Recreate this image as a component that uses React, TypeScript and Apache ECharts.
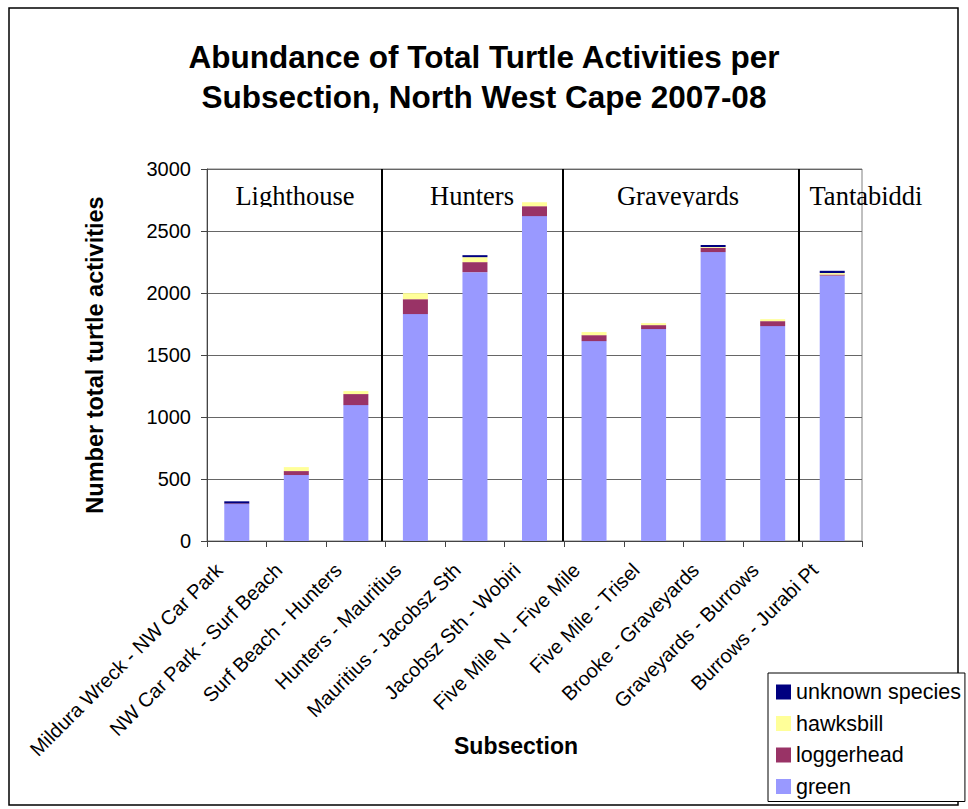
import React, { useEffect, useRef } from "react";
import * as echarts from "echarts";

const categories = [
  "Mildura Wreck - NW Car Park",
  "NW Car Park - Surf Beach",
  "Surf Beach - Hunters",
  "Hunters - Mauritius",
  "Mauritius - Jacobsz Sth",
  "Jacobsz Sth - Wobiri",
  "Five Mile N - Five Mile",
  "Five Mile - Trisel",
  "Brooke - Graveyards",
  "Graveyards - Burrows",
  "Burrows - Jurabi Pt",
];
const green = [298, 532, 1096, 1830, 2168, 2620, 1612, 1709, 2330, 1733, 2140];
const loggerhead = [5, 32, 89, 120, 81, 80, 48, 32, 35, 40, 9];
const hawksbill = [0, 32, 24, 49, 40, 32, 25, 16, 6, 16, 12];
const unknownSpecies = [17, 0, 0, 0, 16, 0, 0, 0, 16, 0, 18];
const yTicks = [0, 500, 1000, 1500, 2000, 2500, 3000];
const sectionNames = ["Lighthouse", "Hunters", "Graveyards", "Tantabiddi"];
const sectionBoundaries = [2.94, 5.98, 9.94];

const SANS = "'Liberation Sans', Arial, sans-serif";
const SERIF = "'Liberation Serif', 'Times New Roman', serif";

export default function App() {
  const ref = useRef<HTMLDivElement>(null);
  useEffect(() => {
    document.body.style.margin = "0";
    if (!ref.current) return;
    const chart = echarts.init(ref.current, null, { renderer: "svg" });
    const barSeries = (name: string, data: number[], color: string) => ({
      name,
      type: "bar",
      stack: "total",
      data,
      barWidth: 25,
      itemStyle: { color },
      emphasis: { disabled: true },
    });
    const sectionX = [295, 472, 678, 866];
    chart.setOption({
      animation: false,
      backgroundColor: "#ffffff",
      title: {
        text: "Abundance of Total Turtle Activities per\nSubsection, North West Cape 2007-08",
        left: "center",
        top: 32,
        textStyle: {
          fontFamily: SANS,
          fontSize: 31.5,
          fontWeight: "bold",
          color: "#000",
          lineHeight: 40,
        },
      },
      legend: {
        orient: "vertical",
        left: 768,
        top: 673,
        data: ["unknown species", "hawksbill", "loggerhead", "green"],
        icon: "rect",
        itemWidth: 15,
        itemHeight: 15,
        itemGap: 9.5,
        padding: [8, 4, 4, 8],
        borderColor: "#000",
        borderWidth: 1,
        backgroundColor: "#fff",
        textStyle: { fontFamily: SANS, fontSize: 21.5, color: "#000" },
        selectedMode: false,
      },
      grid: {
        left: 207,
        top: 169,
        right: 106,
        bottom: 268,
        show: true,
        borderColor: "#808080",
        borderWidth: 1,
        containLabel: false,
      },
      xAxis: [
        {
          type: "category",
          data: categories,
          axisLine: { lineStyle: { color: "#444", width: 1 } },
          axisTick: { show: true, length: 6, lineStyle: { color: "#444" } },
          axisLabel: {
            interval: 0,
            rotate: 45,
            margin: 8,
            padding: [0, 25, 0, 0],
            fontFamily: SANS,
            fontSize: 20,
            color: "#000",
          },
          splitLine: { show: false },
        },
        {
          type: "value",
          min: 0,
          max: 11,
          show: false,
        },
      ],
      yAxis: {
        type: "value",
        min: yTicks[0],
        max: yTicks[yTicks.length - 1],
        interval: 500,
        name: "Number total turtle activities",
        nameLocation: "middle",
        nameGap: 100,
        nameTextStyle: {
          fontFamily: SANS,
          fontSize: 23.5,
          fontWeight: "bold",
          color: "#000",
        },
        axisLine: { show: true, lineStyle: { color: "#444" } },
        axisTick: { show: true, length: 6, lineStyle: { color: "#444" } },
        axisLabel: {
          margin: 16,
          fontFamily: SANS,
          fontSize: 20,
          color: "#000",
          formatter: (v: number) => String(v),
        },
        splitLine: { show: true, lineStyle: { color: "#666", width: 1 } },
      },
      series: [
        barSeries("green", green, "#9999FF"),
        barSeries("loggerhead", loggerhead, "#993366"),
        barSeries("hawksbill", hawksbill, "#FFFF99"),
        barSeries("unknown species", unknownSpecies, "#000080"),
        {
          name: "sections",
          type: "line",
          xAxisIndex: 1,
          yAxisIndex: 0,
          data: [[0, 0]],
          showSymbol: false,
          symbol: "none",
          lineStyle: { opacity: 0 },
          silent: true,
          markLine: {
            silent: true,
            symbol: "none",
            label: { show: false },
            lineStyle: { color: "#000", width: 2, type: "solid" },
            data: sectionBoundaries.map((v) => ({ xAxis: v })),
          },
        },
      ],
      graphic: [
        {
          type: "rect",
          shape: { x: 9, y: 8, width: 949, height: 797 },
          style: { fill: "none", stroke: "#000", lineWidth: 1.5 },
          z: -10,
          silent: true,
        },
        ...sectionNames.map((name, i) => ({
          type: "text",
          x: sectionX[i],
          y: 196,
          style: {
            text: name,
            fontFamily: SERIF,
            fontSize: 26.5,
            fill: "#000",
            textAlign: "center",
            textVerticalAlign: "middle",
          },
          z: 10,
          silent: true,
        })),
        {
          type: "rect",
          shape: { x: 232, y: 207, width: 128, height: 8 },
          style: { fill: "#fff" },
          z: 11,
          silent: true,
        },
        {
          type: "rect",
          shape: { x: 613, y: 207, width: 132, height: 8 },
          style: { fill: "#fff" },
          z: 11,
          silent: true,
        },
        {
          type: "text",
          x: 516,
          y: 746,
          style: {
            text: "Subsection",
            fontFamily: SANS,
            fontSize: 23,
            fontWeight: "bold",
            fill: "#000",
            textAlign: "center",
            textVerticalAlign: "middle",
          },
          silent: true,
        },
      ],
    });
    return () => chart.dispose();
  }, []);
  return <div ref={ref} style={{ width: 968, height: 809 }} />;
}
